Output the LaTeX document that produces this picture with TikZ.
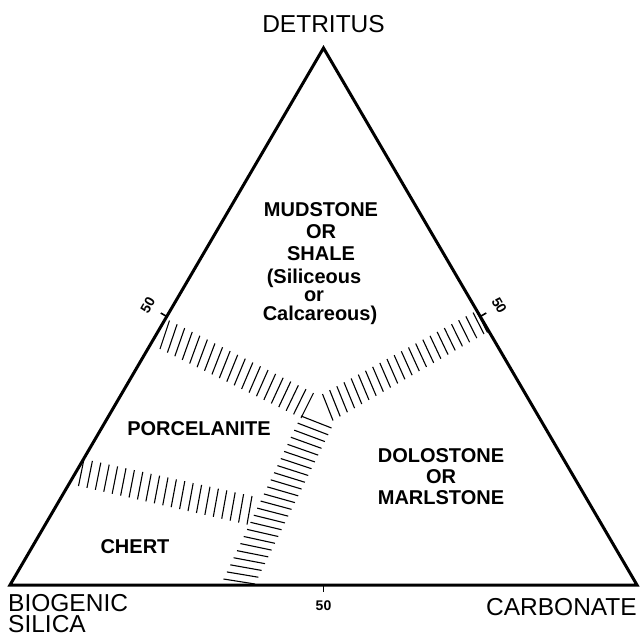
\documentclass[tikz,border=0pt]{standalone}
\usepackage{fontspec}
\setmainfont{Liberation Sans}
\usetikzlibrary{calc}
\begin{document}
\begin{tikzpicture}[x=1pt,y=-1pt,
  side/.style={line width=3pt, line join=miter},
  hatch/.style={line width=1.1pt},
  tickline/.style={line width=1.6pt},
  corner/.style={font=\fontsize{24.5}{25}\selectfont, inner sep=0pt, anchor=base},
  field/.style={font=\bfseries\fontsize{20}{22}\selectfont, inner sep=0pt, anchor=base},
  ticklabel/.style={font=\bfseries\fontsize{14}{14}\selectfont, inner sep=0pt}]
\useasboundingbox (0,0) rectangle (640,637);
% triangle
\coordinate (D) at (323.5,48);
\coordinate (B) at (10,585);
\coordinate (C) at (637,585);
\draw[side] (B) -- (D) -- (C) -- cycle;
% 50 ticks
\coordinate (mL) at ($(B)!0.5!(D)$);
\coordinate (mR) at ($(D)!0.5!(C)$);
\coordinate (mB) at ($(B)!0.5!(C)$);
\coordinate (tL) at ($(mL)+(-6,-3.5)$);
\coordinate (tR) at ($(mR)+(6,-3.5)$);
\coordinate (tB) at ($(mB)+(0,7)$);
\draw[tickline] (mL) -- (tL);
\draw[tickline] (mR) -- (tR);
\draw[tickline] (mB) -- (tB);
\node[ticklabel, rotate=60] (l50L) at ($(mL)+(-19,-11)$) {50};
\node[ticklabel, rotate=-60] (l50R) at ($(mR)+(19,-11)$) {50};
\node[ticklabel] (l50B) at ($(mB)+(0,21)$) {50};
% band 1 (upper left)
\coordinate (a1) at (169.5,320.5); \coordinate (b1) at (313.5,393);
\coordinate (c1) at (160,349);     \coordinate (d1) at (301,418);
\foreach \i in {0,...,19}{\pgfmathsetmacro\t{\i/19}
  \draw[hatch] ($(a1)!\t!(b1)$) -- ($(c1)!\t!(d1)$);}
% band 2 (upper right)
\coordinate (a2) at (322.5,394); \coordinate (b2) at (473,312.5);
\coordinate (c2) at (333,420.5); \coordinate (d2) at (484,334);
\foreach \i in {0,...,21}{\pgfmathsetmacro\t{\i/21}
  \draw[hatch] ($(a2)!\t!(b2)$) -- ($(c2)!\t!(d2)$);}
\draw[hatch] ($(b2)+(3.5,-1.5)$) -- ($(d2)+(3.5,-1.5)$);
% band 3 (lower middle)
\coordinate (a3) at (301,416);   \coordinate (b3) at (223.5,579);
\coordinate (c3) at (331.5,428); \coordinate (d3) at (255,584);
\foreach \i in {0,...,23}{\pgfmathsetmacro\t{\i/23}
  \draw[hatch] ($(a3)!\t!(b3)$) -- ($(c3)!\t!(d3)$);}
% band 4 (lower left)
\coordinate (a4) at (84,459);    \coordinate (b4) at (252,496);
\coordinate (c4) at (78.5,486);  \coordinate (d4) at (247,524.5);
\foreach \i in {0,...,20}{\pgfmathsetmacro\t{\i/20}
  \draw[hatch] ($(a4)!\t!(b4)$) -- ($(c4)!\t!(d4)$);}
% corner labels
\node[corner] (det) at (323.5,32.5) {DETRITUS};
\node[corner, anchor=base west] (bio1) at (8,611) {BIOGENIC};
\node[corner, anchor=base west] (bio2) at (8,632.5) {SILICA};
\node[corner, anchor=base east] (carb) at (637,615) {CARBONATE};
% field labels
\node[field] (mud1) at (321,216) {MUDSTONE};
\node[field] (mud2) at (321,238) {OR};
\node[field] (mud3) at (321,260) {SHALE};
\node[field] (mud4) at (314,283) {(Siliceous};
\node[field] (mud5) at (314,301.5) {or};
\node[field] (mud6) at (320,320.5) {Calcareous)};
\node[field] (por) at (199,435.5) {PORCELANITE};
\node[field] (dol1) at (441,462) {DOLOSTONE};
\node[field] (dol2) at (441,483) {OR};
\node[field] (dol3) at (441,504.5) {MARLSTONE};
\node[field] (chert) at (135,553.5) {CHERT};
\end{tikzpicture}
\end{document}
